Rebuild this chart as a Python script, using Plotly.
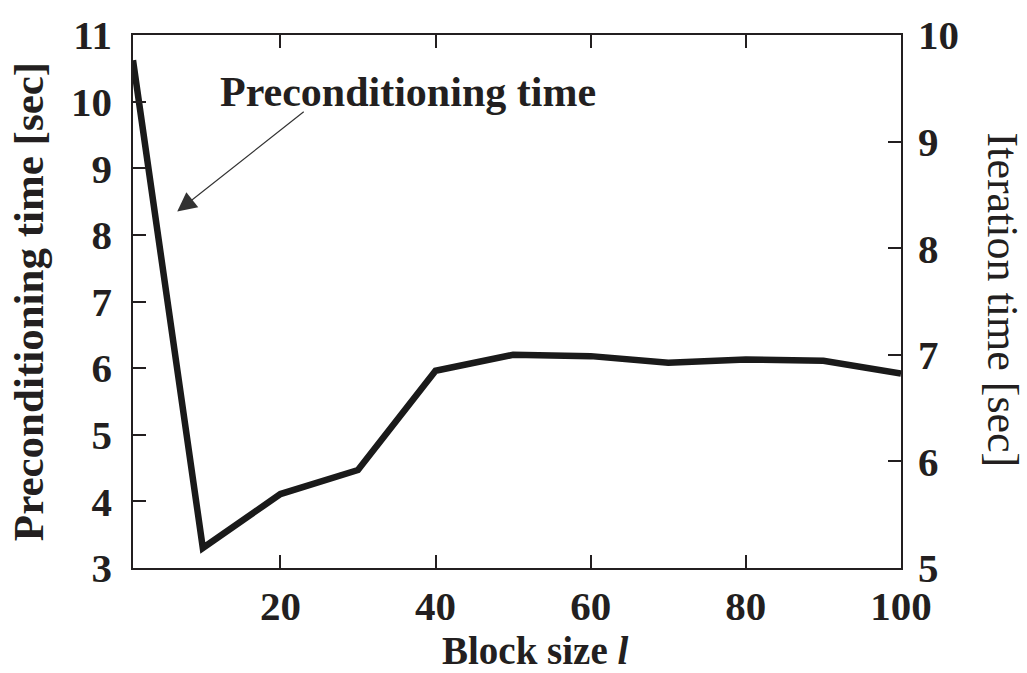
import plotly.graph_objects as go

# Block size vs. preconditioning time
block_size = [1, 10, 20, 30, 40, 50, 60, 70, 80, 90, 100]
precond_time = [10.62, 3.3, 4.11, 4.47, 5.96, 6.2, 6.18, 6.08, 6.13, 6.11, 5.92]

x_ticks = [20, 40, 60, 80, 100]
left_ticks = [3, 4, 5, 6, 7, 8, 9, 10, 11]
right_ticks = [5, 6, 7, 8, 9, 10]

FONT = "Liberation Serif"
INK = "#231f20"
TICK_FONT = dict(family=FONT, size=41, color=INK, weight="bold")

W, H = 1027, 673
ML, MR, MT, MB = 133, 126, 30, 105
PW, PH = W - ML - MR, H - MT - MB


def px(x, y):
    """Convert page pixels to paper coordinates."""
    return (x - ML) / PW, 1 - (y - MT) / PH


fig = go.Figure()
fig.add_trace(go.Scatter(
    x=block_size, y=precond_time, mode="lines",
    line=dict(color="#1a1a1a", width=6.5),
    showlegend=False, cliponaxis=False,
))
# empty trace so the right-hand iteration-time axis is rendered
fig.add_trace(go.Scatter(x=[], y=[], yaxis="y2", showlegend=False, hoverinfo="skip"))

axis_common = dict(
    showgrid=False, zeroline=False, showline=True, linecolor=INK,
    linewidth=1.5, ticks="inside", ticklen=13, tickwidth=1.5,
    tickcolor=INK, tickfont=TICK_FONT,
)

fig.update_layout(
    width=W, height=H,
    margin=dict(l=ML, r=MR, t=MT, b=MB),
    paper_bgcolor="white", plot_bgcolor="white",
    font=dict(family=FONT, color=INK),
    xaxis=dict(range=[1, 100], tickvals=x_ticks, mirror="ticks",
               ticklabelstandoff=1, **axis_common),
    yaxis=dict(
        range=[3, 11], tickvals=left_ticks, ticklabelstandoff=11,
        title=dict(text="Preconditioning time [sec]",
                   font=dict(family=FONT, size=43, weight="bold"), standoff=14),
        **axis_common,
    ),
    yaxis2=dict(range=[5, 10], tickvals=right_ticks, overlaying="y", side="right",
                ticklabelstandoff=7, **axis_common),
)

# x-axis title
bx, by = px(535, 651)
fig.add_annotation(
    x=bx, y=by, xref="paper", yref="paper", showarrow=False,
    text="Block size <i>l</i>", xanchor="center", yanchor="middle",
    font=dict(family=FONT, size=39, color=INK, weight="bold"),
)

# right-hand title, reading top to bottom
rx, ry = px(1002, 297)
fig.add_annotation(
    x=rx, y=ry, xref="paper", yref="paper", showarrow=False,
    text="Iteration time [sec]", textangle=90,
    xanchor="center", yanchor="middle",
    font=dict(family=FONT, size=44, color=INK),
)

# in-plot label
lx, ly = px(218, 88)
fig.add_annotation(
    x=lx, y=ly, xref="paper", yref="paper",
    text="Preconditioning time", showarrow=False,
    font=dict(family=FONT, size=42, color=INK, weight="bold"),
    xanchor="left", yanchor="middle",
)
# pointer from the label down to the steep first segment
fig.add_annotation(
    x=6.7, y=8.35, xref="x", yref="y",
    ax=128, ay=-101,
    text="", showarrow=True, arrowhead=2, arrowsize=3.2, arrowwidth=1.2,
    arrowcolor="#333333",
)

fig.write_html("out.html")
